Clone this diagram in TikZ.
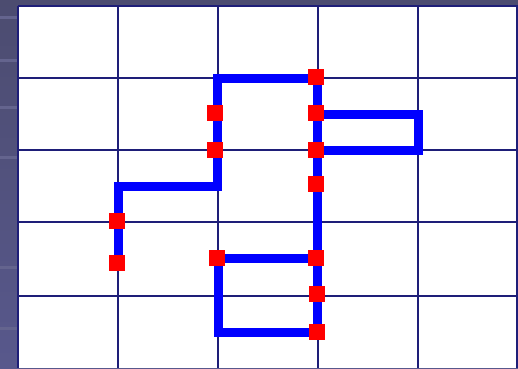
\documentclass[tikz,border=0pt]{standalone}
\usetikzlibrary{calc}
\definecolor{bgtop}{RGB}{76,76,112}
\definecolor{bgbot}{RGB}{88,88,140}
\definecolor{bgstripe}{RGB}{100,100,142}
\definecolor{gridnavy}{RGB}{30,30,120}
\tikzset{
  gridline/.style={draw=gridnavy, line width=1.8pt},
  route/.style={draw={rgb,255:red,0;green,0;blue,255}, line width=9pt, line join=miter, line cap=butt},
  marker/.style={fill={rgb,255:red,255;green,0;blue,0}, draw=none, minimum size=16pt, inner sep=0pt, rectangle}
}
\begin{document}
\begin{tikzpicture}[x=1pt,y=-1pt]
\useasboundingbox (0,0) rectangle (518,368);
\shade[top color=bgtop, bottom color=bgbot] (0,0) rectangle (518,368);
\foreach \yy in {16,59,106,156,266,327}{\fill[bgstripe] (0,\yy) rectangle (17,\yy+3);}
\fill[white] (18,6) rectangle (518,368);
% grid
\foreach \xx in {18,118,218,318,418,517}{\draw[gridline] (\xx,6) -- (\xx,368);}
\foreach \yy in {6,78,150,222,296}{\draw[gridline] (18,\yy) -- (518,\yy);}
% route corners
\coordinate (a0) at (118,263);
\coordinate (a1) at (118,186);
\coordinate (a2) at (217,186);
\coordinate (a3) at (217,78);
\coordinate (a4) at (317,78);
\coordinate (a5) at (317,332);
\coordinate (a6) at (218,332);
\coordinate (a7) at (218,258);
\coordinate (a8) at (317,258);
\coordinate (b0) at (317,114);
\coordinate (b1) at (418,114);
\coordinate (b2) at (418,150);
\coordinate (b3) at (317,150);
\draw[route] (a0) -- (a1) -- (a2) -- (a3) -- (a4) -- (a5) -- (a6) -- (a7) -- (a8);
\draw[route] (b0) -- (b1) -- (b2) -- (b3);
% markers
\node[marker] (m1) at (117,263) {};
\node[marker] (m2) at (117,221) {};
\node[marker] (m3) at (215,113) {};
\node[marker] (m4) at (215,150) {};
\node[marker] (m5) at (316,77) {};
\node[marker] (m6) at (316,113) {};
\node[marker] (m7) at (316,150) {};
\node[marker] (m8) at (316,184) {};
\node[marker] (m9) at (217,258) {};
\node[marker] (m10) at (316,258) {};
\node[marker] (m11) at (317,294) {};
\node[marker] (m12) at (317,332) {};
\end{tikzpicture}
\end{document}
